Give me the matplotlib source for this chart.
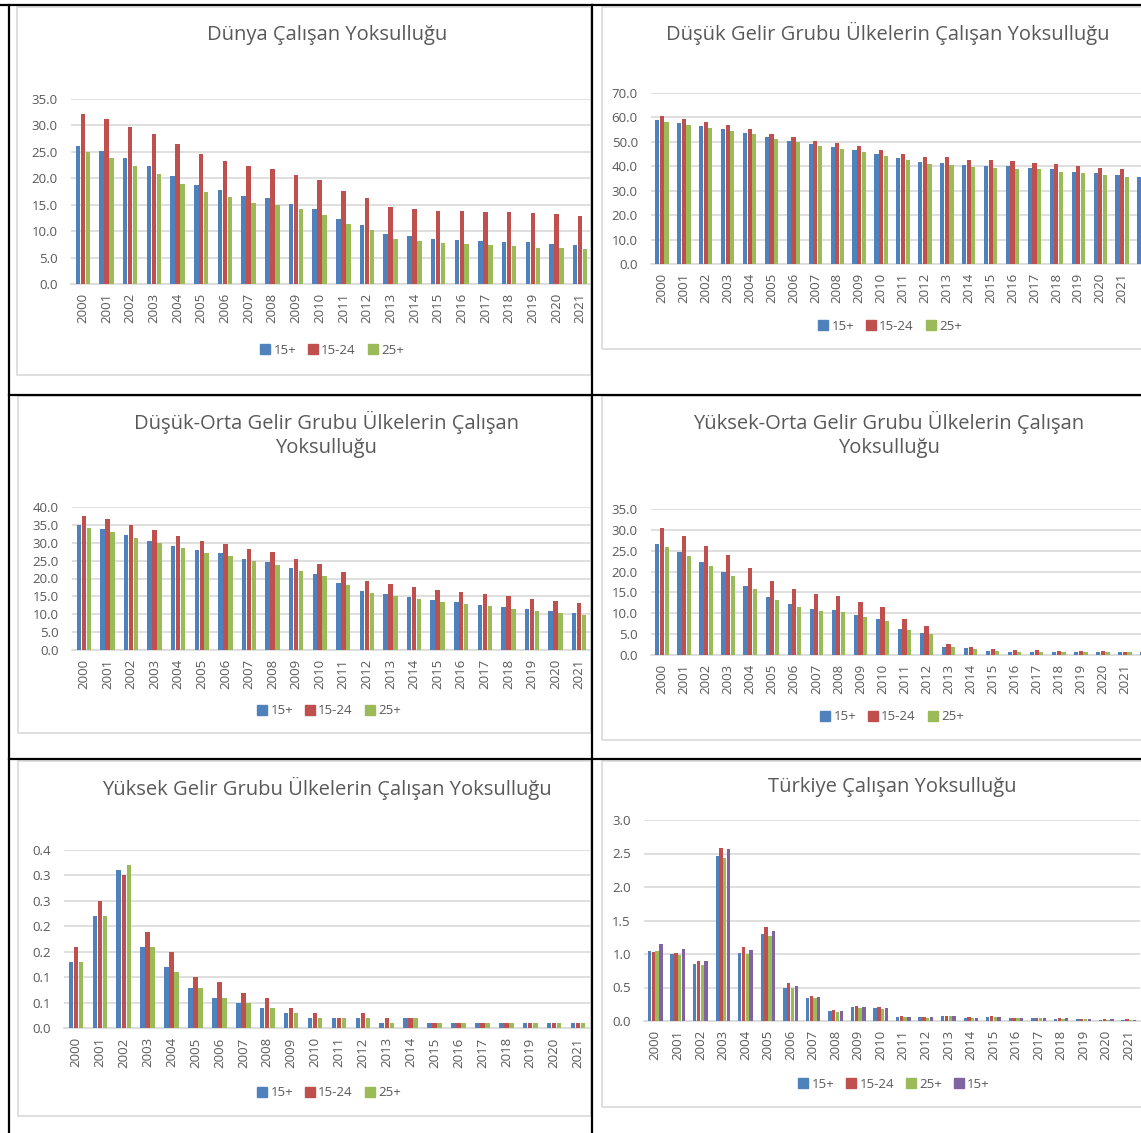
import numpy as np
import matplotlib
matplotlib.use("Agg")
import matplotlib.pyplot as plt
from matplotlib.lines import Line2D
from matplotlib.patches import Rectangle, Patch

# ---- data ----
YEARS = [str(y) for y in range(2000, 2022)]
YEARS_EXT = YEARS + [""]   # 2022 bar is cut off by the page edge

LABELS_3 = ["15+", "15-24", "25+"]
LABELS_4 = ["15+", "15-24", "25+", "15+"]

# Dünya
world_15 = [26.2, 25.2, 23.8, 22.3, 20.4, 18.7, 17.8, 16.6, 16.2, 15.1, 14.2,
            12.3, 11.1, 9.5, 9.1, 8.6, 8.4, 8.1, 8.0, 7.9, 7.5, 7.4]
world_1524 = [32.2, 31.2, 29.7, 28.3, 26.4, 24.6, 23.3, 22.3, 21.8, 20.6, 19.6,
              17.6, 16.2, 14.5, 14.2, 13.9, 13.9, 13.7, 13.6, 13.4, 13.2, 12.9]
world_25 = [24.9, 23.8, 22.3, 20.9, 19.0, 17.4, 16.5, 15.4, 14.9, 14.1, 13.1,
            11.3, 10.2, 8.6, 8.2, 7.7, 7.5, 7.4, 7.2, 6.9, 6.8, 6.6]

# Düşük gelir
low_15 = [58.8, 57.5, 56.2, 55.0, 53.5, 51.7, 50.4, 48.9, 47.9, 46.4, 44.8, 43.3,
          41.7, 41.4, 40.4, 40.2, 39.9, 39.4, 38.7, 37.7, 37.2, 36.2, 35.5]
low_1524 = [60.6, 59.4, 58.2, 56.7, 55.0, 53.1, 51.9, 50.4, 49.4, 48.2, 46.6, 45.1,
            43.9, 43.6, 42.6, 42.4, 41.9, 41.4, 40.9, 40.0, 39.4, 38.7, 37.8]
low_25 = [57.9, 56.9, 55.7, 54.3, 53.0, 51.1, 49.8, 48.2, 47.0, 45.6, 44.1, 42.6,
          40.9, 40.4, 39.6, 39.4, 38.9, 38.7, 37.6, 37.2, 36.2, 35.5, 34.9]

# Düşük-orta gelir
lowmid_15 = [34.9, 33.8, 32.1, 30.6, 29.2, 27.9, 27.2, 25.5, 24.7, 22.8, 21.3,
             18.8, 16.4, 15.6, 14.9, 13.9, 13.3, 12.6, 12.0, 11.4, 10.8, 10.4]
lowmid_1524 = [37.6, 36.7, 35.0, 33.6, 31.9, 30.6, 29.7, 28.2, 27.4, 25.4, 24.1,
               21.8, 19.4, 18.6, 17.7, 16.8, 16.3, 15.6, 15.0, 14.3, 13.7, 13.1]
lowmid_25 = [34.0, 32.9, 31.2, 29.8, 28.5, 27.0, 26.4, 24.9, 23.8, 22.1, 20.7,
             18.1, 15.9, 15.0, 14.2, 13.5, 12.8, 12.2, 11.6, 10.9, 10.4, 9.7]

# Yüksek-orta gelir
upmid_15 = [26.7, 24.7, 22.3, 19.9, 16.6, 13.8, 12.2, 11.1, 10.8, 9.6, 8.7, 6.3,
            5.2, 2.0, 1.6, 1.0, 0.8, 0.8, 0.8, 0.8, 0.8, 0.6, 0.6]
upmid_1524 = [30.5, 28.5, 26.1, 24.0, 20.9, 17.7, 15.9, 14.6, 14.2, 12.8, 11.5, 8.6,
              7.0, 2.6, 2.0, 1.4, 1.2, 1.2, 1.0, 1.0, 1.0, 0.8, 0.8]
upmid_25 = [25.8, 23.8, 21.4, 19.0, 15.8, 13.2, 11.5, 10.5, 10.2, 9.0, 8.2, 6.0,
            5.0, 1.8, 1.4, 1.0, 0.8, 0.8, 0.8, 0.8, 0.6, 0.6, 0.6]

# Yüksek gelir
high_15 = [0.13, 0.22, 0.31, 0.16, 0.12, 0.08, 0.06, 0.05, 0.04, 0.03, 0.02,
           0.02, 0.02, 0.01, 0.02, 0.01, 0.01, 0.01, 0.01, 0.01, 0.01, 0.01]
high_1524 = [0.16, 0.25, 0.30, 0.19, 0.15, 0.10, 0.09, 0.07, 0.06, 0.04, 0.03,
             0.02, 0.03, 0.02, 0.02, 0.01, 0.01, 0.01, 0.01, 0.01, 0.01, 0.01]
high_25 = [0.13, 0.22, 0.32, 0.16, 0.11, 0.08, 0.06, 0.05, 0.04, 0.03, 0.02,
           0.02, 0.02, 0.01, 0.02, 0.01, 0.01, 0.01, 0.01, 0.01, 0.01, 0.01]
high_ticklabels = ["0.0", "0.1", "0.1", "0.2", "0.2", "0.3", "0.3", "0.4"]

# Türkiye
tr_15 = [1.05, 1.00, 0.85, 2.46, 1.01, 1.30, 0.50, 0.35, 0.15, 0.21, 0.19,
         0.06, 0.06, 0.07, 0.05, 0.06, 0.05, 0.04, 0.03, 0.03, 0.02, 0.02]
tr_1524 = [1.03, 1.01, 0.89, 2.58, 1.10, 1.41, 0.57, 0.38, 0.16, 0.23, 0.21,
           0.07, 0.06, 0.07, 0.06, 0.07, 0.05, 0.05, 0.04, 0.03, 0.03, 0.03]
tr_25 = [1.05, 0.99, 0.84, 2.43, 1.00, 1.27, 0.49, 0.34, 0.14, 0.19, 0.18,
         0.06, 0.05, 0.07, 0.05, 0.06, 0.05, 0.04, 0.03, 0.03, 0.02, 0.02]
tr_15b = [1.15, 1.07, 0.89, 2.57, 1.06, 1.34, 0.52, 0.36, 0.15, 0.21, 0.19,
          0.06, 0.06, 0.07, 0.05, 0.06, 0.05, 0.04, 0.04, 0.03, 0.03, 0.02]

COLORS = ["#4F81BD", "#C0504D", "#9BBB59", "#8064A2"]
GRID = "#D9D9D9"
TXT = "#595959"
FONT = "Open Sans"

W, H = 1141, 1133
fig = plt.figure(figsize=(W / 100, H / 100), dpi=100)
fig.patch.set_facecolor("white")


def fx(x):
    return x / W


def fy(y):
    return 1 - y / H


def chart(left, right, top, bottom, ncat, cats, series, labels, ymax, ystep,
          title, tx, ty, lx, ly, frame, pitch=0.21, width=0.19, ticklabels=None):
    # chart frame
    fl, ft, fr, fb = frame
    fig.add_artist(Rectangle((fx(fl), fy(fb)), (fr - fl) / W, (fb - ft) / H,
                             transform=fig.transFigure, fill=False,
                             edgecolor=GRID, lw=1.2))
    ax = fig.add_axes([fx(left), fy(bottom), (right - left) / W, (bottom - top) / H])
    n = len(series)
    x = np.arange(len(cats))
    for i, s in enumerate(series):
        ax.bar(x + (i - (n - 1) / 2) * pitch, s, width=width, color=COLORS[i],
               label=labels[i], zorder=3)
    ax.set_xlim(-0.5, ncat - 0.5)
    ax.set_ylim(0, ymax)
    yt = np.arange(0, ymax + ystep / 2, ystep)
    ax.set_yticks(yt)
    if ticklabels is None:
        ax.set_yticklabels([f"{v:.1f}" for v in yt])
    else:
        ax.set_yticklabels(ticklabels)
    ax.set_xticks(x)
    ax.set_xticklabels(cats, rotation=90)
    ax.tick_params(axis="y", length=0, pad=9.5, labelsize=9.5, labelcolor=TXT)
    ax.tick_params(axis="x", length=0, pad=6.5, labelsize=9.5, labelcolor=TXT)
    for t in ax.get_xticklabels() + ax.get_yticklabels():
        t.set_fontfamily(FONT)
    ax.grid(axis="y", color=GRID, lw=1.2, zorder=0)
    ax.set_axisbelow(True)
    for s in ["top", "right", "left"]:
        ax.spines[s].set_visible(False)
    ax.spines["bottom"].set_color(GRID)
    ax.spines["bottom"].set_linewidth(1.2)
    ax.patch.set_alpha(0)
    for i, line in enumerate(title.split("\n")):
        fig.text(fx(tx), fy(ty + i * 26.5), line, ha="center", va="center",
                 fontsize=14.5, color=TXT, family=FONT)
    handles = [Patch(color=COLORS[i], label=labels[i]) for i in range(n)]
    fig.legend(handles=handles, loc="center", bbox_to_anchor=(fx(lx), fy(ly)),
               ncol=n, frameon=False, handlelength=0.75, handleheight=0.75,
               handletextpad=0.25, columnspacing=0.9,
               prop={"family": FONT, "size": 9.5}, labelcolor=TXT)
    return ax


chart(71, 592, 99, 284, 22, YEARS, [world_15, world_1524, world_25], LABELS_3,
      35, 5, "Dünya Çalışan Yoksulluğu", 327, 35, 332, 350, (17, 7, 591, 375))

chart(651, 1155, 92.7, 264, 23, YEARS_EXT, [low_15, low_1524, low_25], LABELS_3,
      70, 10, "Düşük Gelir Grubu Ülkelerin Çalışan Yoksulluğu", 888, 33, 890, 326,
      (602, 7, 1176, 349))

chart(72, 591, 507, 650, 22, YEARS, [lowmid_15, lowmid_1524, lowmid_25], LABELS_3,
      40, 5, "Düşük-Orta Gelir Grubu Ülkelerin Çalışan\nYoksulluğu", 326, 422, 329, 711,
      (18, 396, 591, 733))

chart(651, 1158, 509, 655, 23, YEARS_EXT, [upmid_15, upmid_1524, upmid_25], LABELS_3,
      35, 5, "Yüksek-Orta Gelir Grubu Ülkelerin Çalışan\nYoksulluğu", 889, 422, 892, 717,
      (602, 396, 1176, 740))

chart(64, 590, 850, 1028.3, 22, YEARS, [high_15, high_1524, high_25], LABELS_3,
      0.35, 0.05, "Yüksek Gelir Grubu Ülkelerin Çalışan Yoksulluğu", 327, 788, 329, 1093,
      (18, 761, 591, 1116), ticklabels=high_ticklabels)

chart(644, 1140, 820, 1021, 22, YEARS, [tr_15, tr_1524, tr_25, tr_15b], LABELS_4,
      3.0, 0.5, "Türkiye Çalışan Yoksulluğu", 892, 787, 894, 1084,
      (602, 761, 1182, 1107), pitch=0.168, width=0.15)

# table borders
for xs, ys in [((9, 9), (5, H)), ((592, 592), (5, H)), ((0, W), (5, 5)),
               ((9, W), (395, 395)), ((9, W), (759, 759))]:
    fig.add_artist(Line2D([fx(xs[0]), fx(xs[1])], [fy(ys[0]), fy(ys[1])],
                          transform=fig.transFigure, color="black", lw=1.6))

fig.savefig("out.png", dpi=100, facecolor="white")
